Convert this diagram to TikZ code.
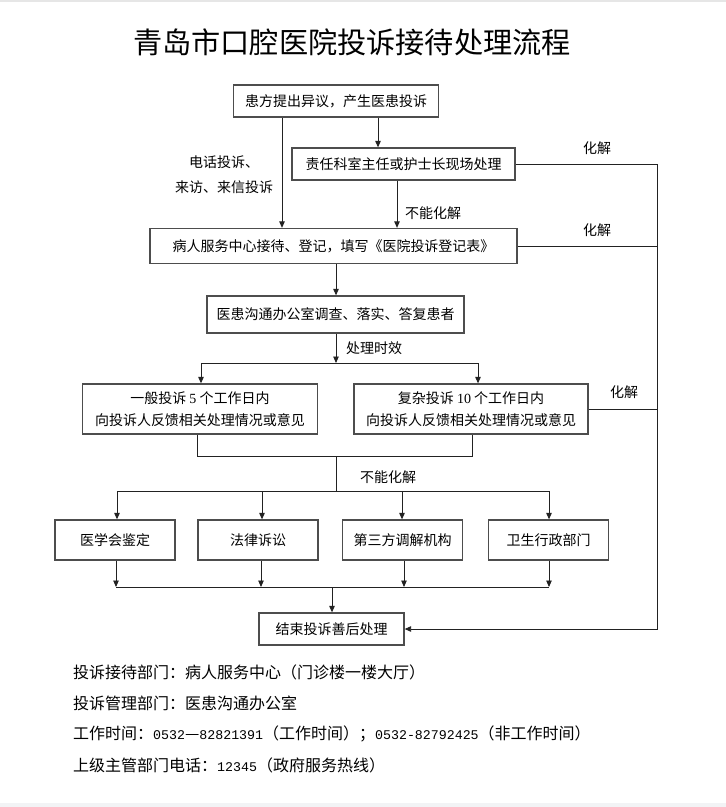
\documentclass[tikz,border=0pt]{standalone}
\usepackage{fontspec}
\usetikzlibrary{arrows.meta}
\newfontfamily\cjk{Noto Sans CJK SC}
\newfontfamily\lserif{Liberation Serif}
\newfontfamily\monodig{Liberation Mono}[Scale=0.83]
\definecolor{boxgray}{HTML}{4D4D4D}
\definecolor{linegray}{HTML}{222222}
\definecolor{bandgray}{HTML}{F2F3F5}
\definecolor{topgray}{HTML}{E6E6E6}
\tikzset{
  stepbox/.style={draw=boxgray, line width=1.3pt, inner sep=0pt, align=center,
    font=\cjk\fontsize{14}{22}\selectfont},
  conn/.style={draw=linegray, line width=0.9pt},
  arr/.style={conn, -{Triangle[length=6.5pt,width=5.5pt]}},
  lab/.style={inner sep=0pt, align=center, font=\cjk\fontsize{14}{25}\selectfont},
  info/.style={inner sep=0pt, anchor=west, font=\cjk\fontsize{16}{18}\selectfont},
  titlefont/.style={inner sep=0pt, font=\cjk\fontsize{29.2}{34}\selectfont}
}
\begin{document}
\begin{tikzpicture}[x=1pt,y=-1pt]
\useasboundingbox (0,0) rectangle (726,807);
\fill[white] (0,0) rectangle (726,807);
\fill[topgray] (0,0) rectangle (726,1.6);
\fill[bandgray] (0,803) rectangle (726,807);

\node[titlefont] (title) at (352,42) {青岛市口腔医院投诉接待处理流程};

% boxes
\node[stepbox, minimum width=205pt, minimum height=32pt] (b1) at (336,101) {患方提出异议，产生医患投诉};
\node[stepbox, minimum width=223pt, minimum height=32pt] (b2) at (403.5,164) {责任科室主任或护士长现场处理};
\node[stepbox, minimum width=367pt, minimum height=35pt] (b3) at (333.5,246) {病人服务中心接待、登记，填写《医院投诉登记表》};
\node[stepbox, minimum width=257pt, minimum height=37pt] (b4) at (335.5,314.5) {医患沟通办公室调查、落实、答复患者};
\node[stepbox, minimum width=235pt, minimum height=50pt] (b5) at (200,409) {一般投诉 {\lserif 5} 个工作日内\\向投诉人反馈相关处理情况或意见};
\node[stepbox, minimum width=234pt, minimum height=50pt] (b6) at (471,409) {复杂投诉 {\lserif 10} 个工作日内\\向投诉人反馈相关处理情况或意见};
\node[stepbox, minimum width=120pt, minimum height=40pt] (b7) at (115,540) {医学会鉴定};
\node[stepbox, minimum width=120pt, minimum height=40pt] (b8) at (258,540) {法律诉讼};
\node[stepbox, minimum width=120pt, minimum height=40pt] (b9) at (402.5,540) {第三方调解机构};
\node[stepbox, minimum width=120pt, minimum height=40pt] (b10) at (548.5,540) {卫生行政部门};
\node[stepbox, minimum width=145pt, minimum height=32pt] (b11) at (331.5,629) {结束投诉善后处理};

% helper coordinates
\coordinate (x282) at (282,0);
\coordinate (x378) at (378,0);
\coordinate (x397) at (397,0);
\coordinate (x336) at (336,0);
\coordinate (rv) at (657,0);
\coordinate (s0) at (336,363);
\coordinate (sl) at (201,363);
\coordinate (sr) at (478,363);
\coordinate (m1) at (197,456);
\coordinate (m2) at (472,456);
\coordinate (mid1) at (336,456);
\coordinate (mid2) at (336,491);
\coordinate (h1) at (117,491);
\coordinate (h2) at (262,491);
\coordinate (h3) at (402,491);
\coordinate (h4) at (549,491);
\coordinate (g1) at (116,587);
\coordinate (g2) at (261,587);
\coordinate (g3) at (404,587);
\coordinate (g4) at (549,587);
\coordinate (g0) at (332,587);

% connectors top
\draw[arr] (b1.south -| x282) -- (b3.north -| x282);
\draw[arr] (b1.south -| x378) -- (b2.north -| x378);
\draw[arr] (b2.south -| x397) -- (b3.north -| x397);
\draw[arr] (b3.south -| x336) -- (b4.north -| x336);
\draw[arr] (b4.south -| s0) -- (s0);
\draw[conn] (sl) -- (sr);
\draw[arr] (sl) -- (b5.north -| sl);
\draw[arr] (sr) -- (b6.north -| sr);

% right resolve line
\draw[arr] (b2.east) -- (b2.east -| rv) -- (b11.east -| rv) -- (b11.east);
\draw[conn] (b3.east) -- (b3.east -| rv);
\draw[conn] (b6.east) -- (b6.east -| rv);

% merge below b5/b6
\draw[conn] (b5.south -| m1) -- (m1) -- (m2) -- (b6.south -| m2);
\draw[conn] (mid1) -- (mid2);
\draw[conn] (h1) -- (h4);
\draw[arr] (h1) -- (b7.north -| h1);
\draw[arr] (h2) -- (b8.north -| h2);
\draw[arr] (h3) -- (b9.north -| h3);
\draw[arr] (h4) -- (b10.north -| h4);

% bottom merge
\draw[arr] (b7.south -| g1) -- (g1);
\draw[arr] (b8.south -| g2) -- (g2);
\draw[arr] (b9.south -| g3) -- (g3);
\draw[arr] (b10.south -| g4) -- (g4);
\draw[conn] (g1) -- (g4);
\draw[arr] (g0) -- (b11.north -| g0);

% labels
\node[lab] (l1) at (224,175) {电话投诉、\\来访、来信投诉};
\node[lab] (l2) at (433,213) {不能化解};
\node[lab] (l3) at (597,148) {化解};
\node[lab] (l4) at (597,230) {化解};
\node[lab] (l5) at (374,348) {处理时效};
\node[lab] (l6) at (624,392) {化解};
\node[lab] (l7) at (388,477) {不能化解};

% info text
\node[info] (i1) at (73,672) {投诉接待部门：病人服务中心（门诊楼一楼大厅）};
\node[info] (i2) at (73,703) {投诉管理部门：医患沟通办公室};
\node[info] (i3) at (73,734) {工作时间：{\monodig 0532}—{\monodig 82821391}（工作时间）；{\monodig 0532-82792425}（非工作时间）};
\node[info] (i4) at (73,765) {上级主管部门电话：{\monodig 12345}（政府服务热线）};
\end{tikzpicture}
\end{document}
